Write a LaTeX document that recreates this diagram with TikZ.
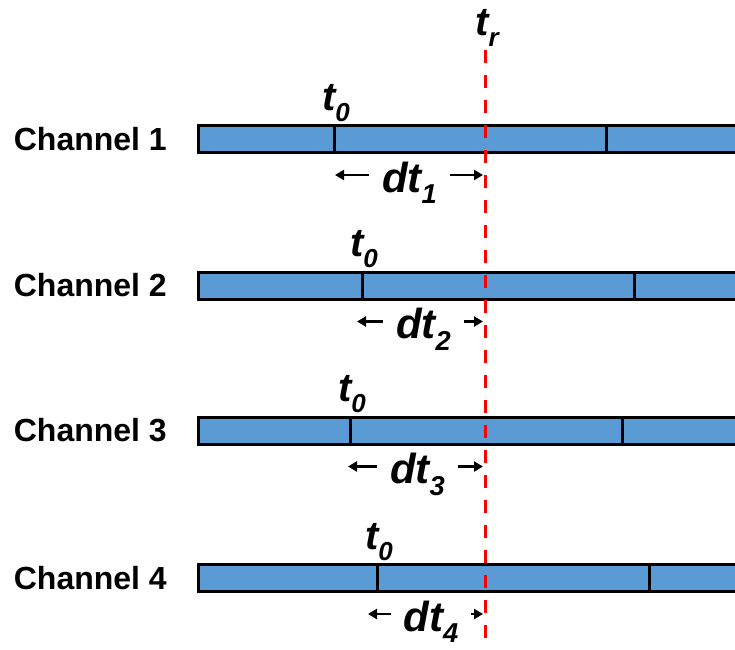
\documentclass[tikz,border=0pt]{standalone}
\usepackage{fontspec}
\usepackage{graphicx}
\setmainfont{Liberation Sans}
\usetikzlibrary{arrows.meta}

\definecolor{barblue}{HTML}{5B9BD5}
\newcommand{\lowidx}[1]{\raisebox{-0.28em}{\scalebox{0.65}{#1}}}

\begin{document}
\begin{tikzpicture}[x=1pt, y=-1pt,
    chlabel/.style={anchor=east, inner sep=0pt, font=\fontsize{32}{32}\selectfont\bfseries},
    tlabel/.style={anchor=base, inner sep=0pt, font=\fontsize{40}{40}\selectfont\bfseries\itshape},
    dtlabel/.style={tlabel, font=\fontsize{42}{42}\selectfont\bfseries\itshape, outer xsep=13pt},
    slot/.style={draw=black, line width=3pt, fill=barblue},
    dtarrow/.style={line width=2.5pt, -{Triangle[length=9pt, width=10pt]}},
    refline/.style={red, line width=3pt, dash pattern=on 13pt off 12pt}]

\useasboundingbox (0,0) rectangle (735,649);
\clip (0,0) rectangle (735,649);

% channel / center of bar / first divider / left arrow tip
\foreach \ch/\yc/\dv/\tip in {1/139/334/335, 2/285.5/362/357, 3/430.5/350/348, 4/578/377/368}
{
    \node[chlabel] (ch\ch) at (167,\yc) {Channel \ch};
    \draw[slot] (198,\yc-13.5) rectangle (750,\yc+13.5);
    \foreach \k in {0,1}
        \draw[line width=3pt] (\dv+272*\k,\yc-13.5) -- (\dv+272*\k,\yc+13.5);

    \node[tlabel] (start\ch) at (\dv+2,\yc-29) {t\lowidx{0}};

    \coordinate (l\ch) at (\tip,\yc+36);
    \coordinate (r\ch) at (483,\yc+36);
    \node[dtlabel] (dt\ch) at ({(\dv+485)/2},\yc+53) {dt\lowidx{\ch}};
    \draw[dtarrow] (dt\ch.west |- l\ch) -- (l\ch);
    \draw[dtarrow] (dt\ch.east |- r\ch) -- (r\ch);
}

% reference time
\coordinate (rtop) at (485,50);
\coordinate (rbot) at (485,655);
\draw[refline] (rtop) -- (rbot);
\node[tlabel] (tref) at (487,35) {t\lowidx{r}};

\end{tikzpicture}
\end{document}
